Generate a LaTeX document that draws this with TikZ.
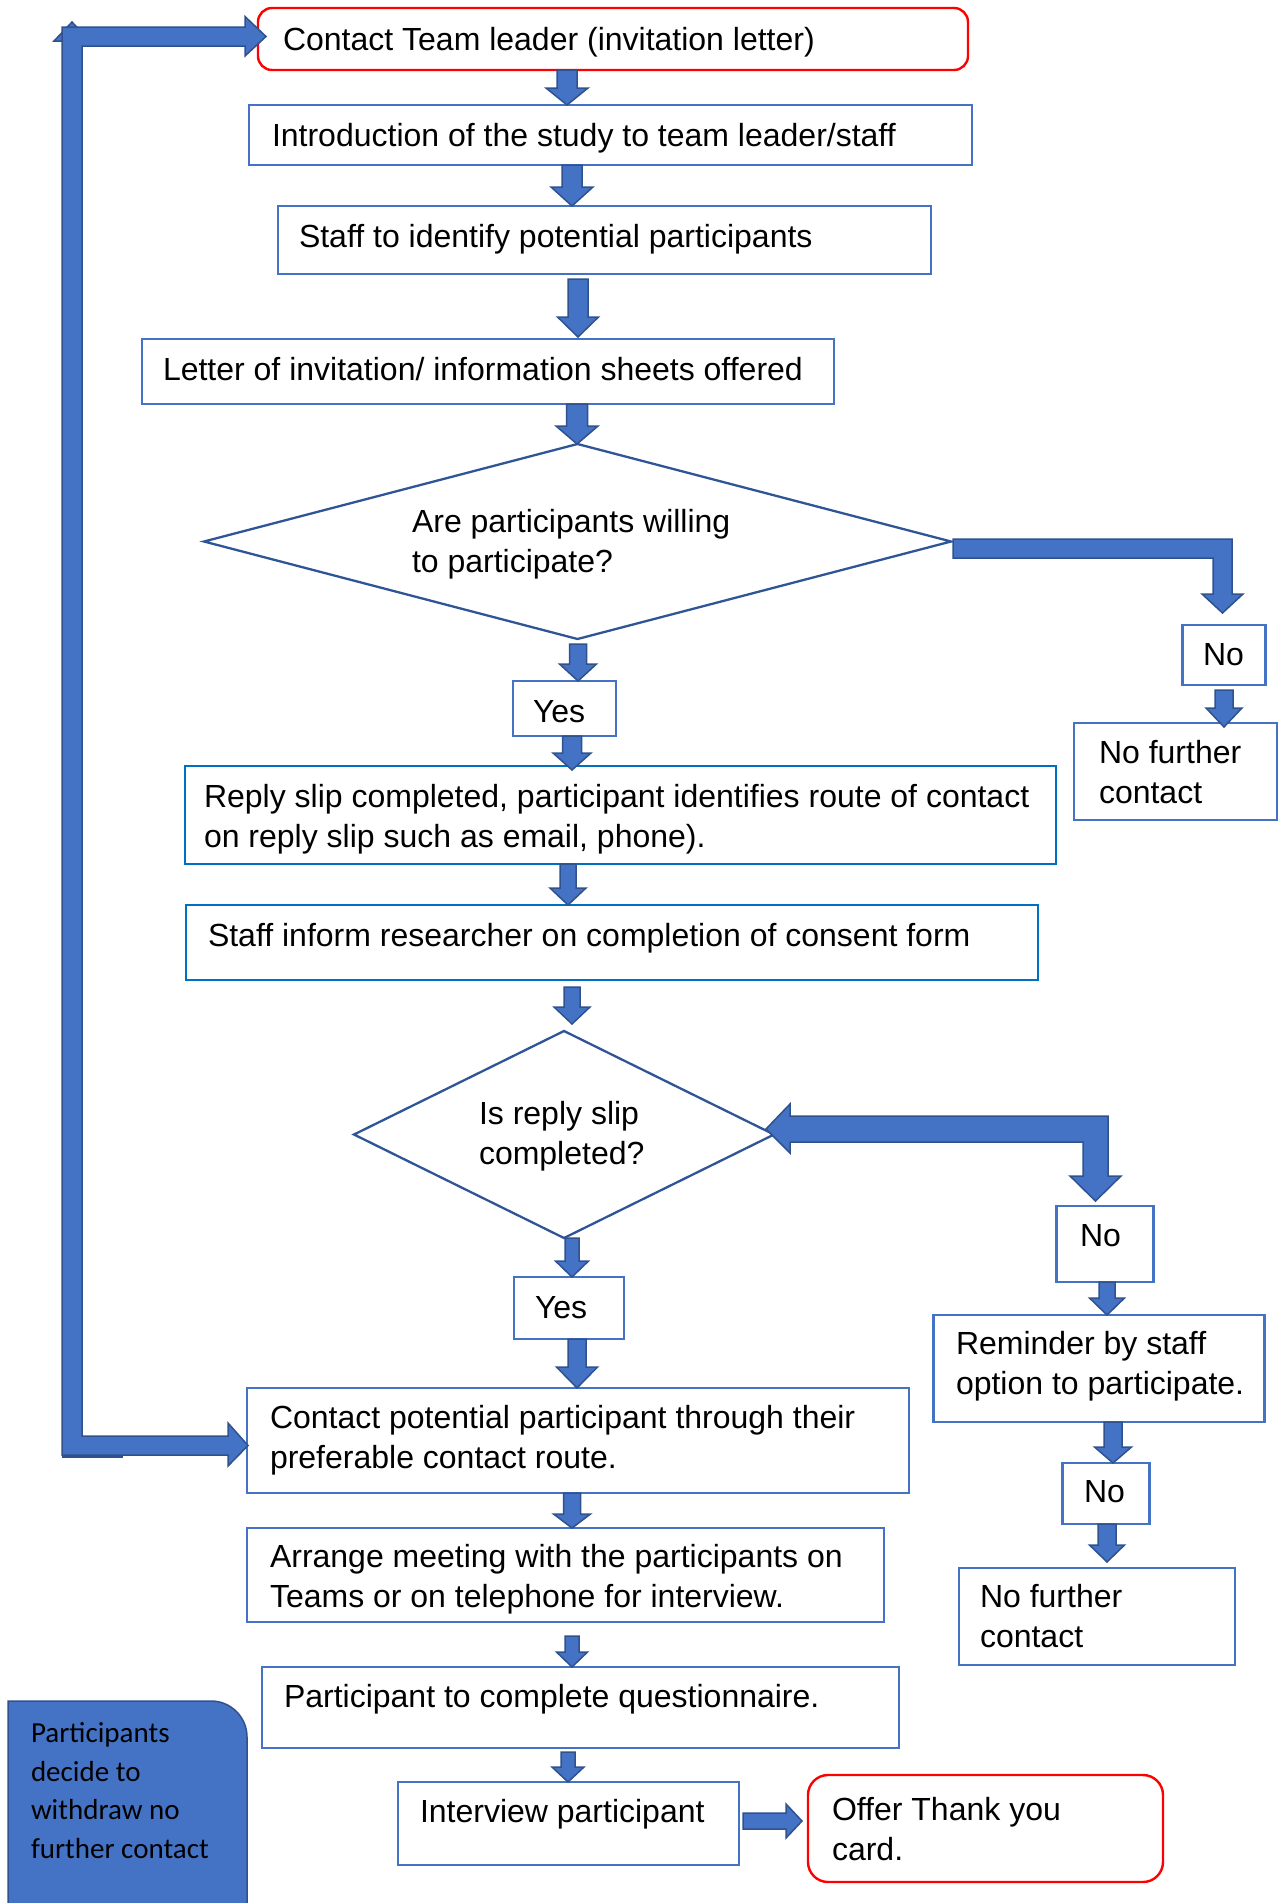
\documentclass[tikz,border=0pt]{standalone}
\usepackage{fontspec}
\setmainfont{Liberation Sans}
\newfontfamily\calibrifont{Carlito}
\usetikzlibrary{calc,shapes.geometric}

\definecolor{boxblue}{HTML}{4472C4}
\definecolor{replyblue}{HTML}{0070C0}
\definecolor{diamondblue}{HTML}{2F5597}
\definecolor{arrowfill}{HTML}{4472C4}
\definecolor{arrowedge}{HTML}{2F528F}
\definecolor{alertred}{HTML}{FF0000}

% vertical block arrow: x, from, to, shaft half width, head half width, head length
\newcommand\blkdown[6]{%
  \path[blockarrow] let \p1=#2, \p2=#3 in
    ({#1pt-#4pt},\y1) -- ({#1pt+#4pt},\y1) -- ({#1pt+#4pt},{\y2+#6pt})
    -- ({#1pt+#5pt},{\y2+#6pt}) -- (#1pt,\y2) -- ({#1pt-#5pt},{\y2+#6pt})
    -- ({#1pt-#4pt},{\y2+#6pt}) -- cycle;}
% horizontal block arrow: y, from, to, shaft half height, head half height, head length
\newcommand\blkright[6]{%
  \path[blockarrow] let \p1=#2, \p2=#3 in
    (\x1,{-#1pt+#4pt}) -- ({\x2-#6pt},{-#1pt+#4pt}) -- ({\x2-#6pt},{-#1pt+#5pt})
    -- (\x2,-#1pt) -- ({\x2-#6pt},{-#1pt-#5pt}) -- ({\x2-#6pt},{-#1pt-#4pt})
    -- (\x1,{-#1pt-#4pt}) -- cycle;}

\begin{document}
\begin{tikzpicture}[x=1pt,y=-1pt,
  box/.style={draw=boxblue, line width=2.2pt, fill=white, inner sep=0pt, outer sep=0pt},
  replybox/.style={box, draw=replyblue, line width=1.5pt},
  staffbox/.style={box, draw=replyblue, line width=2.6pt},
  redbox/.style={box, draw=alertred, line width=2.4pt, rounded corners=14pt},
  decision/.style={diamond, draw=diamondblue, line width=2.3pt, fill=white, inner sep=0pt, outer sep=0pt},
  blockarrow/.style={fill=arrowfill, draw=arrowedge, line width=1.5pt, line join=miter},
  txt/.style={anchor=base west, inner sep=0pt, outer sep=0pt, align=left, font=\fontsize{32}{40}\selectfont},
  bluetxt/.style={anchor=base west, inner sep=0pt, outer sep=0pt, align=left, font=\calibrifont\fontsize{29}{38.5}\selectfont}]
\useasboundingbox (0,0) rectangle (1285,1903);
\fill[white] (0,0) rectangle (1285,1903);

% ---- boxes ----
\node[redbox, minimum width=710pt, minimum height=62pt] (b1) at (613,39) {};
\node[box, minimum width=723pt, minimum height=60pt] (b2) at (610.5,135) {};
\node[box, minimum width=653pt, minimum height=68pt] (b3) at (604.5,240) {};
\node[box, minimum width=692pt, minimum height=65pt] (b4) at (488,371.5) {};
\node[decision, minimum width=747pt, minimum height=195pt] (d1) at (577.5,541.5) {};
\node[box, minimum width=103pt, minimum height=55pt] (yes1) at (564.5,708.5) {};
\node[box, minimum width=83pt, minimum height=60pt] (no1) at (1224,655) {};
\node[box, minimum width=203pt, minimum height=97pt] (nfc1) at (1175.5,771.5) {};
\node[replybox, minimum width=871pt, minimum height=98pt] (reply) at (620.5,815) {};
\node[staffbox, minimum width=852pt, minimum height=75pt] (staff) at (612,942.5) {};
\node[decision, minimum width=420pt, minimum height=207pt] (d2) at (564,1134.5) {};
\node[box, minimum width=97pt, minimum height=76pt] (no2) at (1105,1244) {};
\node[box, minimum width=110pt, minimum height=62pt] (yes2) at (569,1308) {};
\node[box, minimum width=331pt, minimum height=107pt] (remind) at (1099,1368.5) {};
\node[box, minimum width=87pt, minimum height=61pt] (no3) at (1106,1493.5) {};
\node[box, minimum width=276pt, minimum height=97pt] (nfc2) at (1097,1616.5) {};
\node[box, minimum width=662pt, minimum height=105pt] (contact) at (578,1440.5) {};
\node[box, minimum width=637pt, minimum height=94pt] (arrange) at (565.5,1575) {};
\node[box, minimum width=637pt, minimum height=81pt] (quest) at (580.5,1707.5) {};
\node[box, minimum width=341pt, minimum height=83pt] (interview) at (568.5,1823.5) {};
\node[redbox, rounded corners=20pt, minimum width=355pt, minimum height=107pt] (offer) at (985.5,1828.5) {};

% withdrawal panel, rounded at the top right only
\path[fill=arrowfill, draw=arrowedge, line width=1.5pt]
  (8,1915) -- (8,1701) [rounded corners=36pt] -- (247,1701) [sharp corners] -- (247,1915) -- cycle;

% ---- straight block arrows ----
\blkdown{567}{(b1.south)}{(b2.north)}{10}{21}{17}
\blkdown{572}{(b2.south)}{(b3.north)}{10}{21}{19}
\blkdown{578}{([yshift=-5pt]b3.south)}{([yshift=2pt]b4.north)}{10}{20.5}{20}
\blkdown{577}{(b4.south)}{(d1.north)}{10.5}{21}{18}
\blkdown{578}{([yshift=-5pt]d1.south)}{(yes1.north)}{8.5}{18.5}{17}
\blkdown{572}{(yes1.south)}{([yshift=-4pt]reply.north)}{9.5}{19}{17}
\blkdown{568}{(reply.south)}{(staff.north)}{8}{18}{17}
\blkdown{572}{([yshift=-7pt]staff.south)}{([yshift=7pt]d2.north)}{8}{18}{17}
\blkdown{572}{(d2.south)}{(yes2.north)}{7}{16.5}{16}
\blkdown{577}{(yes2.south)}{(contact.north)}{9}{20.5}{21}
\blkdown{572}{(contact.south)}{(arrange.north)}{8.5}{18.5}{14}
\blkdown{572}{([yshift=-14pt]arrange.south)}{(quest.north)}{7}{15.5}{15}
\blkdown{568}{([yshift=-4pt]quest.south)}{(interview.north)}{7}{16}{15}
\blkdown{1224}{([yshift=-5pt]no1.south)}{([yshift=-4pt]nfc1.north)}{9}{18}{19}
\blkdown{1107}{(no2.south)}{(remind.north)}{8}{17.5}{17}
\blkdown{1113}{(remind.south)}{(no3.north)}{9}{18.5}{16}
\blkdown{1107}{(no3.south)}{([yshift=6pt]nfc2.north)}{9}{17.5}{17}
\blkright{1821}{([xshift=4pt]interview.east)}{([xshift=-6pt]offer.west)}{8}{17}{16}

% ---- bent arrow: willing? -> No ----
\path[blockarrow] let \p1=(d1.east), \p2=(no1.north) in
  (\x1+2pt,\y1+2.5pt) -- (\x2+8pt,\y1+2.5pt) -- (\x2+8pt,\y2+31pt)
  -- (\x2+19pt,\y2+31pt) -- (\x2-1.5pt,\y2+12pt) -- (\x2-22pt,\y2+31pt)
  -- (\x2-11pt,\y2+31pt) -- (\x2-11pt,\y1-16.5pt) -- (\x1+2pt,\y1-16.5pt) -- cycle;

% ---- bent double arrow: No <-> reply slip completed? ----
\path[blockarrow] let \p1=(no2.north), \p2=(d2.east) in
  (\x2-8pt,\y2+5.5pt) -- (\x2+16pt,\y2+30.5pt) -- (\x2+16pt,\y2+18.5pt)
  -- (\x1+3pt,\y2+18.5pt) -- (\x1+3pt,\y1+30pt) -- (\x1+16pt,\y1+30pt)
  -- (\x1-9.5pt,\y1+5pt) -- (\x1-35pt,\y1+30pt) -- (\x1-22pt,\y1+30pt)
  -- (\x1-22pt,\y2-7.5pt) -- (\x2+16pt,\y2-7.5pt) -- (\x2+16pt,\y2-18.5pt) -- cycle;

% ---- return loop on the left: contact route -> team leader ----
\path[blockarrow] (54,41) -- (72,22) -- (90,41) -- cycle;
\draw[arrowedge, line width=2.5pt] (62,1457) -- (123,1457);
\path[blockarrow] let \p1=(b1.west), \p2=(contact.west) in
  (\x1+8pt,\y1+2.5pt) -- (245pt,\y1+22.5pt) -- (245pt,\y1+12pt) -- (62pt,\y1+12pt)
  -- (62pt,\y2-14.5pt) -- (228pt,\y2-14.5pt) -- (228pt,\y2-25.5pt) -- (\x2+1pt,\y2-5pt)
  -- (228pt,\y2+17.5pt) -- (228pt,\y2+4.5pt) -- (82pt,\y2+4.5pt) -- (82pt,\y1-7pt)
  -- (245pt,\y1-7pt) -- (245pt,\y1-17pt) -- cycle;

% ---- texts (multi-line texts are placed by their last baseline) ----
\node[txt] (t1) at (283,50) {Contact Team leader (invitation letter)};
\node[txt] (t2) at (272,146) {Introduction of the study to team leader/staff};
\node[txt] (t3) at (299,247) {Staff to identify potential participants};
\node[txt] (t4) at (163,380) {Letter of invitation/ information sheets offered};
\node[txt] (t5) at (412,572) {Are participants willing\\to participate?};
\node[txt] (t6) at (533,722) {Yes};
\node[txt] (t7) at (1203,665) {No};
\node[txt] (t8) at (1099,803) {No further\\contact};
\node[txt] (t9) at (204,847) {Reply slip completed, participant identifies route of contact\\on reply slip such as email, phone).};
\node[txt] (t10) at (208,946) {Staff inform researcher on completion of consent form};
\node[txt] (t11) at (479,1164) {Is reply slip\\completed?};
\node[txt] (t12) at (1080,1246) {No};
\node[txt] (t13) at (535,1318) {Yes};
\node[txt] (t14) at (956,1394) {Reminder by staff\\option to participate.};
\node[txt] (t15) at (1084,1502) {No};
\node[txt] (t16) at (270,1468) {Contact potential participant through their\\preferable contact route.};
\node[txt] (t17) at (270,1607) {Arrange meeting with the participants on\\Teams or on telephone for interview.};
\node[txt] (t18) at (980,1647) {No further\\contact};
\node[txt] (t19) at (284,1707) {Participant to complete questionnaire.};
\node[txt] (t20) at (420,1822) {Interview participant};
\node[txt] (t21) at (832,1860) {Offer Thank you\\card.};
\node[bluetxt] (t22) at (31,1858) {Participants\\decide to\\withdraw no\\further contact};
\end{tikzpicture}
\end{document}
